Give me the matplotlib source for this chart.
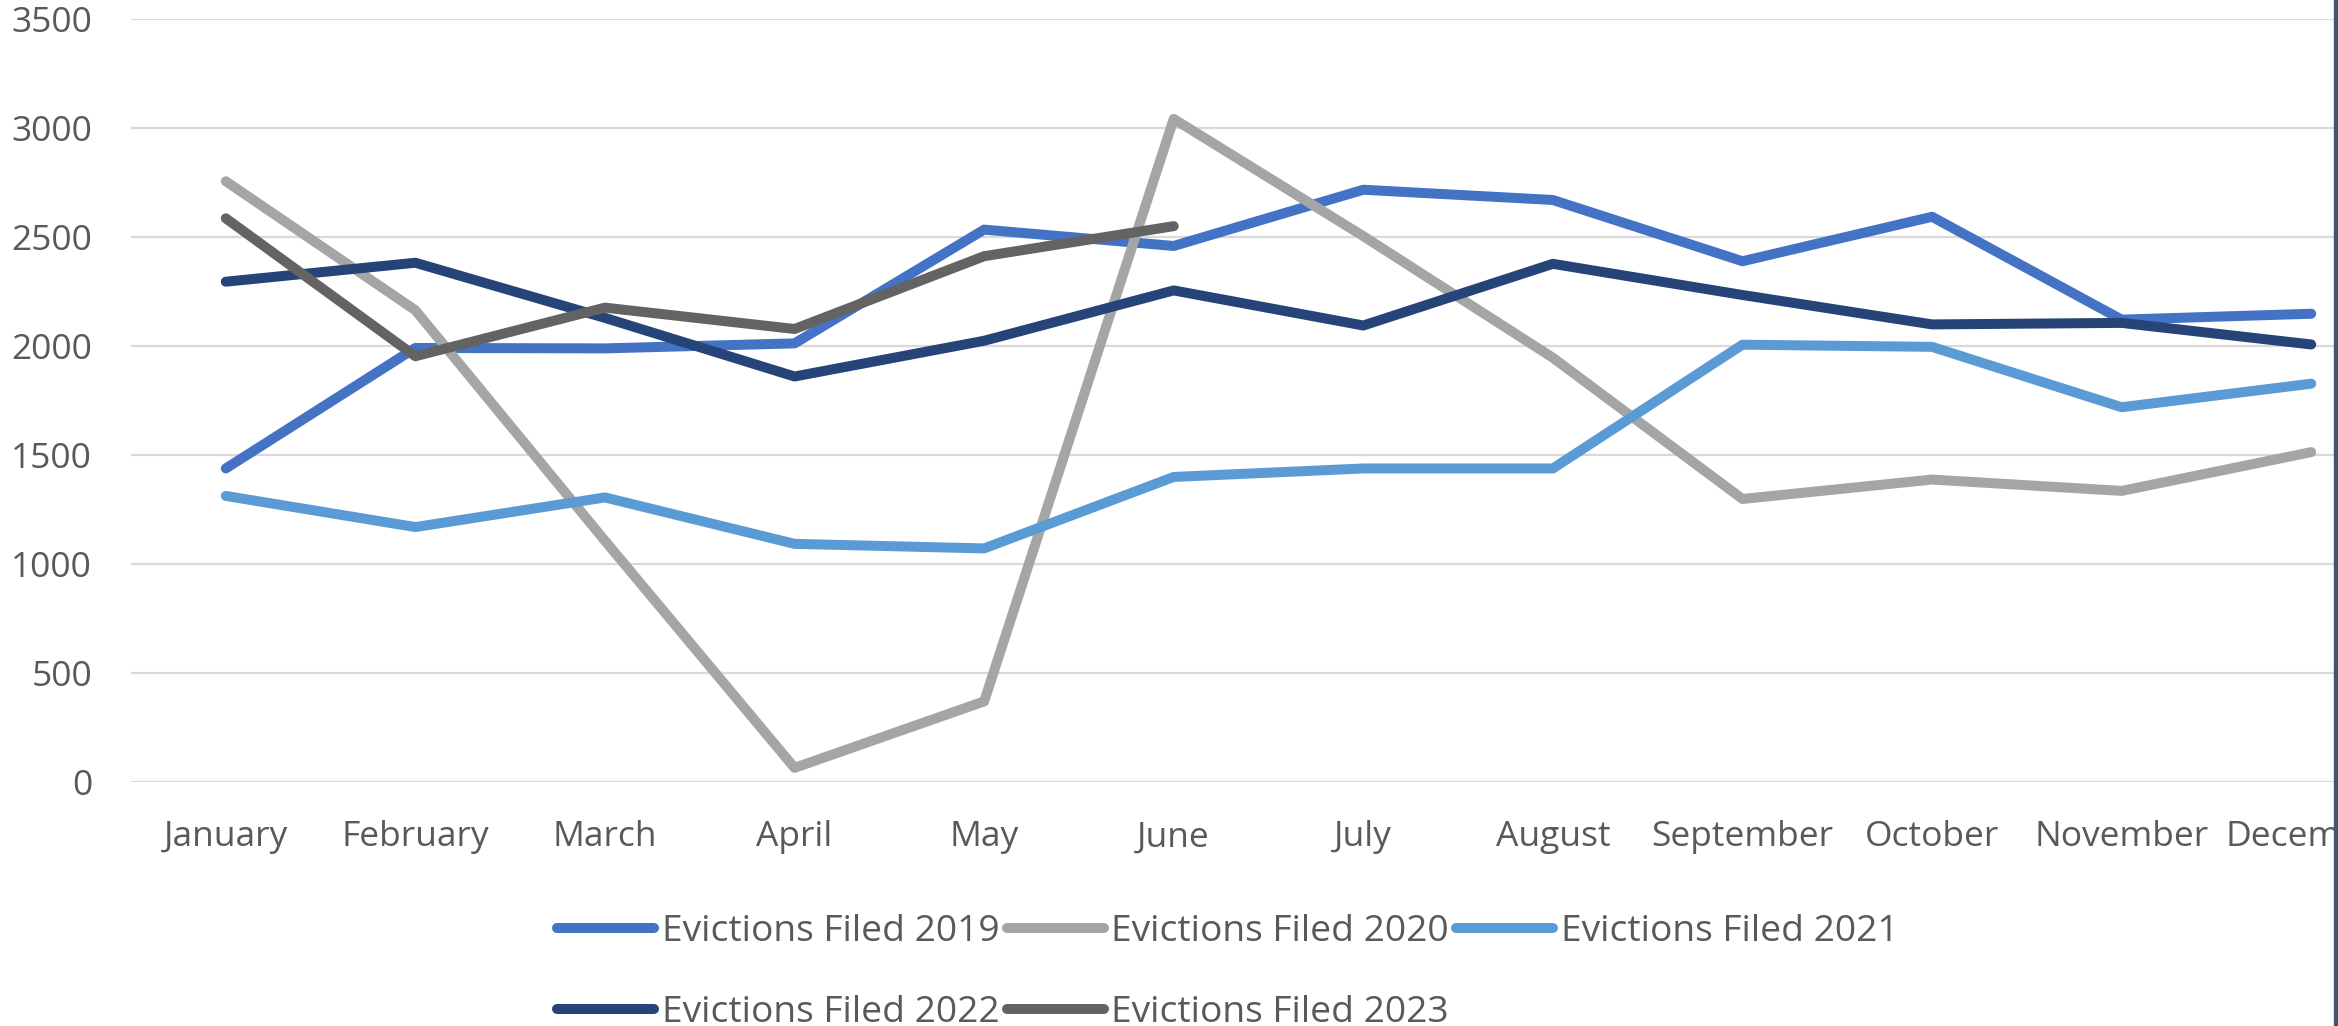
import matplotlib.pyplot as plt
from matplotlib.patches import Rectangle

months = ['January', 'February', 'March', 'April', 'May', 'June', 'July',
          'August', 'September', 'October', 'November', 'December']

filed_2019 = [1437, 1990, 1988, 2011, 2533, 2458, 2716, 2669, 2388, 2592, 2120, 2147]
filed_2020 = [2755, 2163, 1105, 63, 368, 3041, 2503, 1945, 1297, 1386, 1334, 1512]
filed_2021 = [1311, 1168, 1304, 1091, 1070, 1398, 1437, 1437, 2005, 1995, 1718, 1826]
filed_2022 = [2294, 2381, 2128, 1859, 2023, 2254, 2093, 2376, 2233, 2098, 2105, 2006]
filed_2023 = [2585, 1952, 2175, 2077, 2411, 2549]

series = [
    ('Evictions Filed 2019', filed_2019, '#4472C4'),
    ('Evictions Filed 2020', filed_2020, '#A5A5A5'),
    ('Evictions Filed 2021', filed_2021, '#5B9BD5'),
    ('Evictions Filed 2022', filed_2022, '#264478'),
    ('Evictions Filed 2023', filed_2023, '#636363'),
]

TEXT = '#595959'
FONT = 'Open Sans'
plt.rcParams['font.family'] = [FONT, 'DejaVu Sans']

W, H = 2338, 1026
fig = plt.figure(figsize=(W / 100, H / 100), dpi=100)
fig.patch.set_facecolor('white')

# plot area runs past the right edge (the source picture is cropped)
ax = fig.add_axes([131 / W, 1 - 781.6 / H, 2275 / W, (781.6 - 18.9) / H])

lines = []
for name, vals, col in series:
    ln, = ax.plot(range(len(vals)), vals, color=col, lw=7.2, label=name,
                  solid_capstyle='round', solid_joinstyle='round')
    lines.append(ln)

ax.set_xlim(-0.5, 11.5)
ax.set_ylim(0, 3500)
ax.set_yticks(range(0, 3501, 500))
ax.set_xticks(range(12))
ax.set_xticklabels(months)
ax.yaxis.grid(True, color='#D9D9D9', lw=1.6)
ax.set_axisbelow(True)
for s in ax.spines.values():
    s.set_visible(False)
ax.tick_params(axis='both', length=0, labelsize=25.5, labelcolor=TEXT)
ax.tick_params(axis='y', pad=28)
ax.tick_params(axis='x', pad=28)

# row-major legend order for 3 columns x 2 rows
order = [0, 3, 1, 4, 2]
leg = fig.legend([lines[i] for i in order], [series[i][0] for i in order],
                 ncol=3, loc='upper left', bbox_to_anchor=(557 / W, 1 - 914 / H),
                 frameon=False, fontsize=26.7, handlelength=2.62, handletextpad=0.2,
                 columnspacing=0.2, labelspacing=1.2, borderpad=0, borderaxespad=0)
for t in leg.get_texts():
    t.set_color(TEXT)

fig.add_artist(Rectangle((2334 / W, 0), 4 / W, 1, transform=fig.transFigure,
                         color='#44546A', zorder=10))

fig.savefig('out.png', dpi=100)
